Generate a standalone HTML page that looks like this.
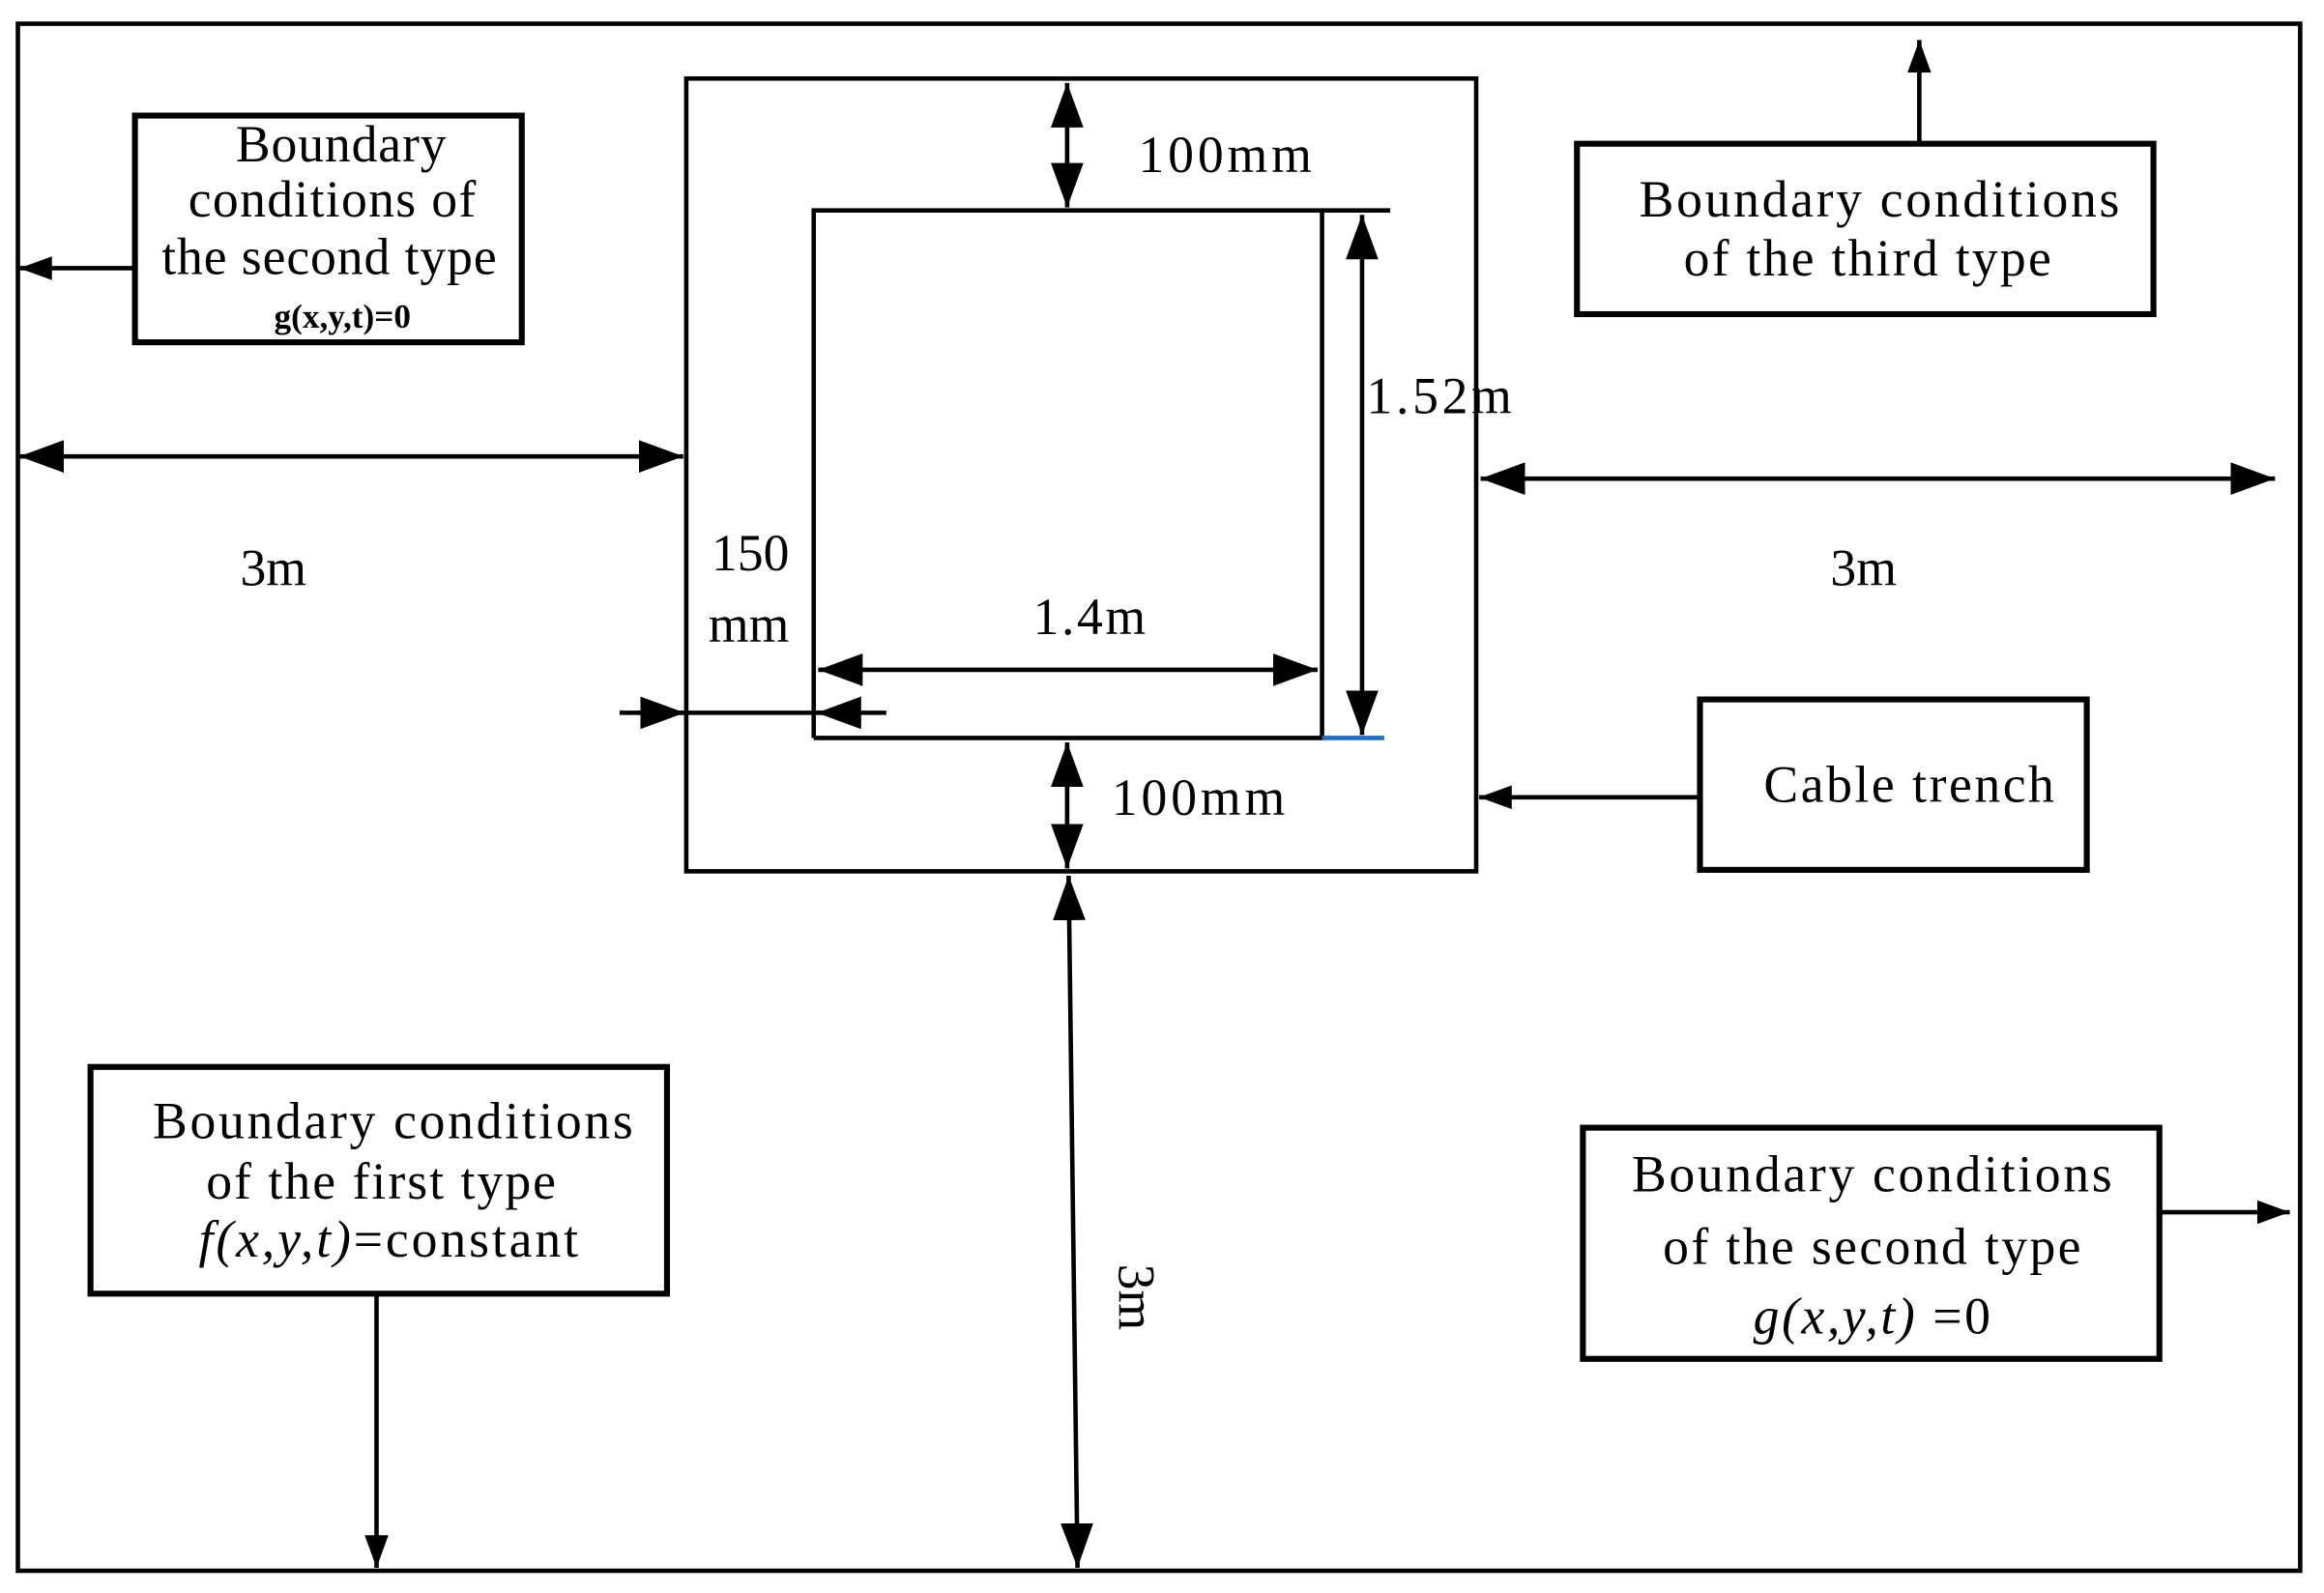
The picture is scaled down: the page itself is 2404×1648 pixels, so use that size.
<!DOCTYPE html>
<html><head><meta charset="utf-8"><style>html,body{margin:0;padding:0;background:#fff}svg{display:block}</style></head><body>
<svg width="2404" height="1648" viewBox="0 0 1568 1075" xmlns="http://www.w3.org/2000/svg" font-family="Liberation Serif, serif" font-size="35">
<defs>
<marker id="a" viewBox="0 0 10 10" refX="10" refY="5" markerWidth="22" markerHeight="16" markerUnits="userSpaceOnUse" orient="auto-start-reverse" preserveAspectRatio="none"><path d="M0,0L10,5L0,10z" fill="#000"/></marker>
<marker id="b" viewBox="0 0 10 10" refX="10" refY="5" markerWidth="30" markerHeight="22" markerUnits="userSpaceOnUse" orient="auto-start-reverse" preserveAspectRatio="none"><path d="M0,0L10,5L0,10z" fill="#000"/></marker>
</defs>
<g fill="none" stroke="#000" stroke-width="3">
<rect x="12" y="16" width="1540" height="1044"/>
<rect x="463" y="53" width="533" height="535"/>
<path d="M549,498V142H938M892,142V498H549"/>
</g>
<line x1="892" y1="498" x2="934" y2="498" stroke="#1f6fc8" stroke-width="3"/>
<g stroke="#000" stroke-width="3" fill="none">
<line x1="720" y1="56" x2="720" y2="140" marker-start="url(#b)" marker-end="url(#b)"/>
<line x1="919" y1="145" x2="919" y2="496" marker-start="url(#b)" marker-end="url(#b)"/>
<line x1="13" y1="308" x2="461" y2="308" marker-start="url(#b)" marker-end="url(#b)"/>
<line x1="999" y1="323" x2="1535" y2="323" marker-start="url(#b)" marker-end="url(#b)"/>
<line x1="552" y1="452" x2="889" y2="452" marker-start="url(#b)" marker-end="url(#b)"/>
<line x1="418" y1="481" x2="598" y2="481"/>
<line x1="430" y1="481" x2="462" y2="481" marker-end="url(#b)"/>
<line x1="580" y1="481" x2="551" y2="481" marker-end="url(#b)"/>
<line x1="720" y1="501" x2="720" y2="586" marker-start="url(#b)" marker-end="url(#b)"/>
<line x1="721" y1="591" x2="727" y2="1058" marker-start="url(#b)" marker-end="url(#b)"/>
<line x1="91" y1="181" x2="13" y2="181" marker-end="url(#a)"/>
<line x1="1295" y1="97" x2="1295" y2="27" marker-end="url(#a)"/>
<line x1="1147" y1="538" x2="998" y2="538" marker-end="url(#a)"/>
<line x1="254" y1="873" x2="254" y2="1058" marker-end="url(#a)"/>
<line x1="1457" y1="818" x2="1545" y2="818" marker-end="url(#a)"/>
</g>
<g fill="none" stroke="#000" stroke-width="4">
<rect x="91" y="78" width="261" height="153"/>
<rect x="1064" y="97" width="389" height="115"/>
<rect x="1147" y="472" width="261" height="115"/>
<rect x="61" y="720" width="389" height="153"/>
<rect x="1068" y="761" width="389" height="156"/>
</g>
<g fill="#000">
<text x="768" y="116" textLength="117">100mm</text>
<text x="922" y="279" textLength="98">1.52m</text>
<text x="162" y="395">3m</text>
<text x="1235" y="395">3m</text>
<text x="480" y="385">150</text>
<text x="478" y="433">mm</text>
<text x="697" y="428" textLength="76">1.4m</text>
<text x="750" y="550" textLength="117">100mm</text>
<text transform="translate(755,853) rotate(90)">3m</text>
<g text-anchor="middle">
<text x="230" y="109" textLength="142">Boundary</text>
<text x="224" y="146" textLength="194">conditions of</text>
<text x="222" y="185" textLength="226">the second type</text>
<text x="231" y="221" font-size="23" font-weight="bold">g(x,y,t)=0</text>
<text x="1268" y="146" textLength="324">Boundary conditions</text>
<text x="1260" y="186" textLength="248">of the third type</text>
<text x="1288" y="541" textLength="196">Cable trench</text>
<text x="265" y="768" textLength="324">Boundary conditions</text>
<text x="257" y="809" textLength="236">of the first type</text>
<text x="262" y="848" textLength="256"><tspan font-style="italic">f(x,y,t)</tspan>=constant</text>
<text x="1263" y="804" textLength="324">Boundary conditions</text>
<text x="1263" y="853" textLength="282">of the second type</text>
<text x="1263" y="900" textLength="160"><tspan font-style="italic">g(x,y,t)</tspan> =0</text>
</g>
</g>
</svg>
</body></html>
